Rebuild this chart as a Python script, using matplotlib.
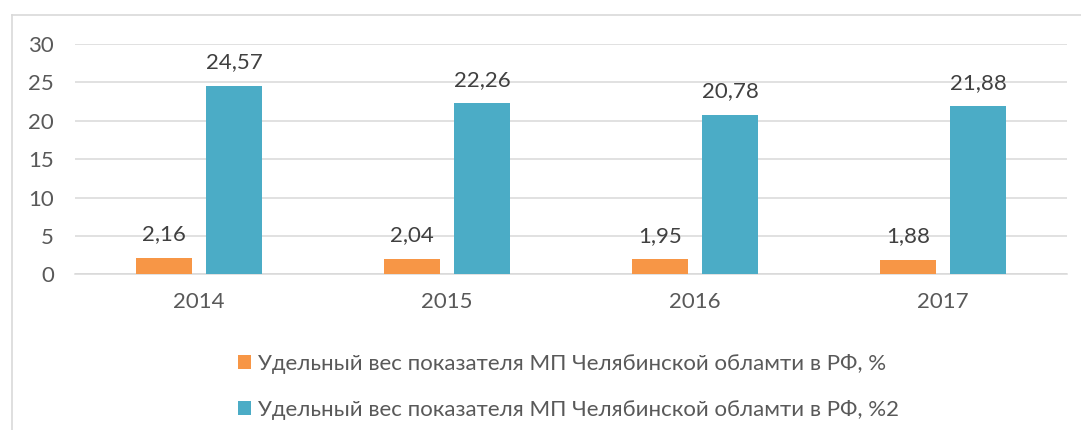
import matplotlib.pyplot as plt
from matplotlib.lines import Line2D

# data
years = ["2014", "2015", "2016", "2017"]
share_a = [2.16, 2.04, 1.95, 1.88]
share_b = [24.57, 22.26, 20.78, 21.88]
labels = ["Удельный вес показателя МП Челябинской обламти в РФ, %",
          "Удельный вес показателя МП Челябинской обламти в РФ, %2"]

plt.rcParams['font.family'] = ['Lato', 'DejaVu Sans']
fs = 16

fig = plt.figure(figsize=(10.81, 4.30), dpi=100)
ax = fig.add_axes([75 / 1081, 1 - 274.3 / 430, 992 / 1081, (274.3 - 44) / 430])

x = list(range(len(years)))
w = 0.226
off = 0.142
b1 = ax.bar([i - off for i in x], share_a, w, color="#F79646", label=labels[0], zorder=3)
b2 = ax.bar([i + off for i in x], share_b, w, color="#4BACC6", label=labels[1], zorder=3)

for bars in (b1, b2):
    for r in bars:
        v = r.get_height()
        ax.annotate(f"{v:.2f}".replace(".", ","), (r.get_x() + r.get_width() / 2, v),
                    xytext=(0, 17), textcoords="offset points", ha="center", va="center",
                    fontsize=fs, color="#404040")

ax.set_xlim(-0.5, 3.5)
ax.set_ylim(0, 30)
ax.set_yticks(range(0, 31, 5))
ax.set_xticks(x)
ax.set_xticklabels(years)
ax.yaxis.grid(True, color="#D9D9D9", linewidth=1.1, zorder=0)
ax.set_axisbelow(True)
for s in ("top", "right", "left"):
    ax.spines[s].set_visible(False)
ax.spines["bottom"].set_color("#D9D9D9")
ax.spines["bottom"].set_linewidth(1.1)
ax.tick_params(axis="both", length=0, labelsize=fs, labelcolor="#595959")
ax.tick_params(axis="y", pad=15)
ax.tick_params(axis="x", pad=13)

fig.legend(handles=[b1, b2], loc="upper left", bbox_to_anchor=(218 / 1081, 1 - 334 / 430),
           frameon=False, fontsize=fs, labelcolor="#595959", handlelength=0.6,
           handleheight=0.6, handletextpad=0.3, labelspacing=1.15)

# chart border (cropped at right and bottom)
bc = "#D9D9D9"
fig.add_artist(Line2D([11.5 / 1081, 11.5 / 1081], [0, 1 - 14.5 / 430], color=bc, lw=1.2,
                      transform=fig.transFigure))
fig.add_artist(Line2D([11.5 / 1081, 1], [1 - 14.5 / 430, 1 - 14.5 / 430], color=bc, lw=1.2,
                      transform=fig.transFigure))

fig.savefig("out.png", dpi=100)
